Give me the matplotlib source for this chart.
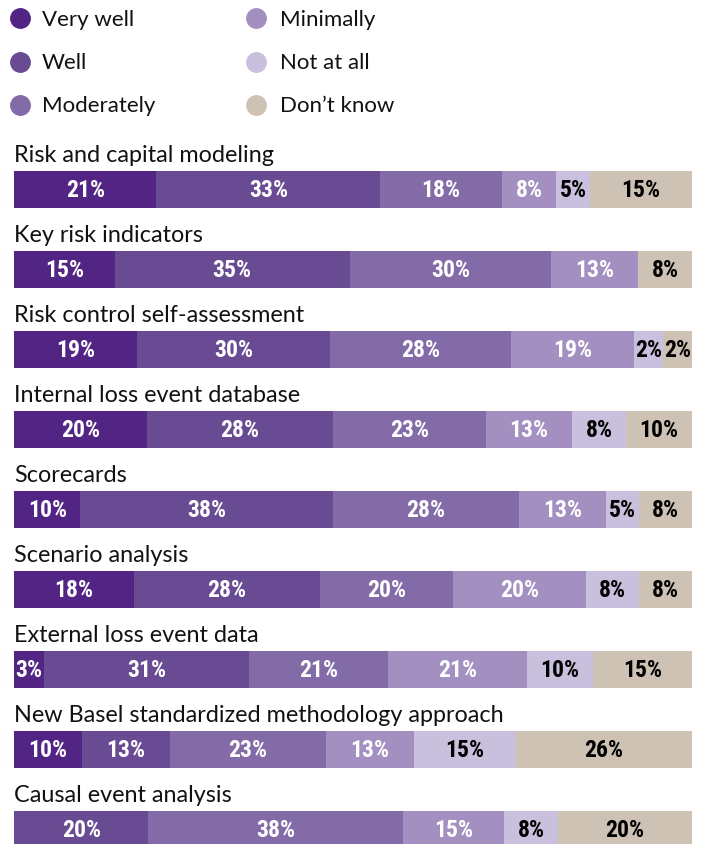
import matplotlib
matplotlib.use("Agg")
import matplotlib.pyplot as plt
from matplotlib import font_manager
import numpy as np

# -----------------------------
# Data
# -----------------------------
categories = [
    "Risk and capital modeling",
    "Key risk indicators",
    "Risk control self-assessment",
    "Internal loss event database",
    "Scorecards",
    "Scenario analysis",
    "External loss event data",
    "New Basel standardized methodology approach",
    "Causal event analysis",
]
levels = ["Very well", "Well", "Moderately", "Minimally", "Not at all", "Don\u2019t know"]

very_well = [21, 15, 19, 20, 10, 18, 3, 10, 0]
well = [33, 35, 30, 28, 38, 28, 31, 13, 20]
moderately = [18, 30, 28, 23, 28, 20, 21, 23, 38]
minimally = [8, 13, 19, 13, 13, 20, 21, 13, 15]
not_at_all = [5, 0, 2, 8, 5, 8, 10, 15, 8]
dont_know = [15, 8, 2, 10, 8, 8, 15, 26, 20]

series = [very_well, well, moderately, minimally, not_at_all, dont_know]

colors = ["#522585", "#694b93", "#836ba7", "#a390c0", "#c8c0dc", "#cdc2b4"]
text_colors = ["white", "white", "white", "white", "black", "black"]

# -----------------------------
# Fonts
# -----------------------------
available = {f.name for f in font_manager.fontManager.ttflist}
title_font = "Lato" if "Lato" in available else "DejaVu Sans"
label_font = "DejaVu Sans"
for cand in ["Liberation Sans Narrow", "Roboto Condensed", "Open Sans Condensed", "Roboto"]:
    if cand in available:
        label_font = cand
        break

# -----------------------------
# Figure
# -----------------------------
W, H = 703, 844
fig = plt.figure(figsize=(W / 100, H / 100), dpi=100)
ax = fig.add_axes([14 / W, 0, (692 - 14) / W, 1])

pitch = 80.0
first_center = 189.5
n = len(categories)
ax.set_xlim(0, 100)
ax.set_ylim(n - 1 + (H - (first_center + (n - 1) * pitch)) / pitch, -first_center / pitch)
ax.axis("off")

# small segments get a minimum visible width, then each row is rescaled to 100
min_w = 4.5
data = np.array(series, dtype=float).T  # rows = categories
for i, row in enumerate(data):
    widths = np.where(row > 0, np.maximum(row, min_w), 0)
    widths = widths / widths.sum() * 100
    left = 0.0
    for j, (v, w) in enumerate(zip(row, widths)):
        if w <= 0:
            continue
        ax.barh(i, w, left=left, height=37 / pitch, color=colors[j], linewidth=0)
        ax.text(left + w / 2, i + 0.015, f"{int(v)}%", ha="center", va="center",
                color=text_colors[j], fontsize=17, fontweight="bold",
                family=label_font)
        left += w
    ax.text(0, i - 0.345, categories[i], ha="left", va="baseline",
            fontsize=16.8, family=title_font, color="#111111")

# Legend (two columns, three rows)
leg_x = [20 / W, 256 / W]
txt_x = [42 / W, 280 / W]
leg_y = [18, 61.5, 105]
for k, lab in enumerate(levels):
    col, r = divmod(k, 3)
    yf = 1 - leg_y[r] / H
    fig.add_artist(plt.Line2D([leg_x[col]], [yf], marker="o", markersize=14,
                              color=colors[k], linestyle="none",
                              transform=fig.transFigure))
    fig.text(txt_x[col], 1 - (leg_y[r] + 7.5) / H, lab, ha="left", va="baseline",
             fontsize=16, family=title_font, color="#111111")

fig.savefig("out.png", dpi=100)
